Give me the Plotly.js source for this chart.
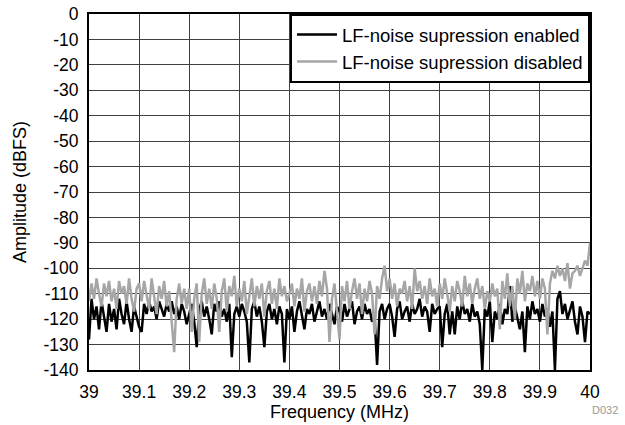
<!DOCTYPE html>
<html>
<head>
<meta charset="utf-8">
<script src="https://cdn.plot.ly/plotly-3.0.1.min.js"></script>
<style>html,body{margin:0;padding:0;background:#fff;}</style>
</head>
<body>
<div id="chart" style="width:625px;height:425px;"></div>
<script>
// Frequency grid (MHz)
const freqStart = 39.0;
const freqStep = 0.005;

// LF-noise suppression enabled (dBFS)
const enabled = [
-128,-112,-120,-115,-124,-113,-119,-125,-114,-121,-116,-124,-112,-118,-122,-113,-120,-125,-115,-119,
-123,-125,-114,-118,-113,-117,-115,-120,-113,-116,-119,-114,-117,-113,-118,-115,-120,-114,-117,-122,
-118,-114,-121,-131,-116,-113,-119,-115,-120,-126,-114,-117,-113,-119,-116,-121,-114,-135,-118,-115,
-119,-114,-117,-121,-137,-116,-113,-119,-115,-121,-131,-117,-114,-120,-116,-122,-115,-118,-137,-116,
-120,-115,-125,-117,-113,-119,-124,-116,-118,-114,-121,-117,-113,-119,-116,-120,-114,-118,-122,-115,
-117,-121,-114,-119,-116,-113,-122,-117,-115,-120,-114,-118,-116,-121,-119,-138,-117,-114,-120,-116,
-114,-119,-127,-116,-113,-120,-117,-115,-121,-114,-118,-116,-112,-119,-115,-117,-125,-114,-118,-116,
-115,-131,-118,-114,-126,-117,-126,-115,-120,-113,-118,-116,-121,-114,-119,-117,-122,-140,-116,-119,
-113,-129,-117,-120,-114,-122,-116,-118,-107,-121,-115,-119,-124,-117,-133,-115,-120,-113,-118,-116,
-121,-114,-119,-116,-123,-117,-140,-112,-109,-118,-114,-120,-116,-113,-121,-126,-115,-119,-129,-117,
-118
];

// LF-noise suppression disabled (dBFS)
const disabled = [
-113,-106,-112,-104,-110,-115,-106,-111,-105,-113,-108,-116,-105,-110,-107,-114,-104,-112,-117,-108,
-106,-113,-105,-110,-116,-104,-111,-118,-107,-112,-105,-115,-109,-120,-133,-112,-106,-114,-108,-116,
-108,-125,-112,-106,-129,-110,-104,-114,-108,-116,-106,-112,-125,-109,-104,-117,-107,-111,-103,-115,
-108,-113,-105,-118,-110,-104,-115,-107,-112,-106,-119,-109,-105,-114,-108,-116,-104,-111,-107,-113,
-110,-106,-115,-108,-112,-104,-117,-109,-106,-113,-107,-114,-105,-111,-101,-108,-129,-112,-106,-116,
-128,-107,-113,-105,-116,-109,-104,-112,-106,-118,-108,-113,-105,-110,-126,-107,-112,-104,-99,-109,
-104,-112,-106,-115,-108,-110,-105,-113,-107,-116,-100,-109,-105,-112,-107,-114,-104,-111,-108,-115,
-106,-112,-104,-110,-117,-107,-113,-105,-109,-115,-103,-111,-106,-114,-108,-104,-112,-107,-116,-109,
-113,-106,-111,-108,-124,-105,-112,-102,-115,-107,-120,-104,-110,-101,-113,-106,-109,-103,-111,-105,
-112,-104,-108,-126,-106,-101,-104,-99,-103,-100,-105,-98,-108,-102,-101,-99,-103,-100,-97,-99,
-90
];

const xTicks = [39, 39.1, 39.2, 39.3, 39.4, 39.5, 39.6, 39.7, 39.8, 39.9, 40];
const xTickText = ['39','39.1','39.2','39.3','39.4','39.5','39.6','39.7','39.8','39.9','40'];
const yTicks = [0,-10,-20,-30,-40,-50,-60,-70,-80,-90,-100,-110,-120,-130,-140];
const yTickText = ['0','-10','-20','-30','-40','-50','-60','-70','-80','-90','-100','-110','-120','-130','-140'];

const freqs = enabled.map((_, i) => +(freqStart + i * freqStep).toFixed(4));

const fam = 'Liberation Sans, Arial, sans-serif';
const tickFont = {family: fam, size: 17.5, color: '#000'};
const titleFont = {family: fam, size: 18, color: '#000'};

const traces = [
  {x: freqs, y: enabled, type: 'scatter', mode: 'lines', name: 'LF-noise supression enabled',
   line: {color: '#000000', width: 2.5}},
  {x: freqs, y: disabled, type: 'scatter', mode: 'lines', name: 'LF-noise supression disabled',
   line: {color: '#a6a6a6', width: 2.5}}
];

const layout = {
  width: 625, height: 425,
  margin: {l: 89, r: 35, t: 14, b: 55},
  paper_bgcolor: '#fff', plot_bgcolor: '#fff',
  font: tickFont,
  showlegend: true,
  legend: {x: 1, y: 1, xanchor: 'right', yanchor: 'top', bgcolor: '#fff',
           bordercolor: '#000', borderwidth: 2, font: {family: fam, size: 18.5, color: '#000'},
           tracegroupgap: 0, itemwidth: 40},
  xaxis: {range: [39, 40], tickvals: xTicks, ticktext: xTickText, showgrid: true,
          gridcolor: '#404040', gridwidth: 1, zeroline: false, showline: true, linecolor: '#000',
          linewidth: 2, mirror: true, ticks: '', tickfont: tickFont, ticklabelstandoff: 5,
          title: {text: 'Frequency (MHz)', font: titleFont, standoff: 0}},
  yaxis: {range: [-140, 0], tickvals: yTicks, ticktext: yTickText, showgrid: true,
          gridcolor: '#404040', gridwidth: 1,
          zeroline: false, showline: true, linecolor: '#000', linewidth: 2, mirror: true,
          ticks: '', tickfont: tickFont, ticklabelstandoff: 5,
          title: {text: 'Amplitude (dBFS)', font: titleFont, standoff: 12}},
  annotations: [{text: 'D032', xref: 'paper', yref: 'paper', x: 1.06, y: -0.09,
                 xanchor: 'right', yanchor: 'top', showarrow: false,
                 font: {family: fam, size: 11, color: '#999'}}]
};

Plotly.newPlot('chart', traces, layout, {displayModeBar: false, staticPlot: true});
</script>
</body>
</html>
